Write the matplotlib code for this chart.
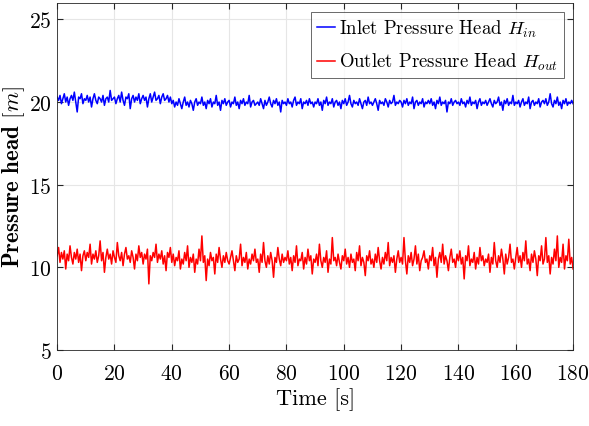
import numpy as np
import matplotlib
matplotlib.use("Agg")
import matplotlib.pyplot as plt

plt.rcParams['font.family'] = ['cmr10', 'DejaVu Serif']
plt.rcParams['mathtext.fontset'] = 'cm'
plt.rcParams['axes.formatter.use_mathtext'] = True

h_in = [
    20.3, 20.1, 20.4, 19.9, 20.2, 20.5, 20.0, 20.3, 19.8, 20.2, 20.4, 20.1, 20.6, 20.0, 19.4, 20.3, 20.2, 20.5, 19.9, 20.2,
    20.1, 20.4, 20.0, 20.3, 19.7, 20.2, 20.5, 20.1, 19.9, 20.3, 20.2, 20.0, 20.4, 19.8, 20.2, 20.3, 20.0, 20.7, 20.1, 20.2,
    20.3, 19.9, 20.2, 20.4, 20.0, 20.6, 20.1, 19.8, 20.3, 20.2, 20.5, 19.6, 20.2, 20.4, 20.0, 20.3, 20.1, 20.5, 19.9, 20.2,
    20.4, 20.1, 20.3, 19.7, 20.2, 20.5, 20.0, 20.3, 20.6, 20.1, 20.2, 20.4, 19.9, 20.3, 20.5, 20.1, 20.2, 20.4, 20.0, 20.3,
    19.9, 20.1, 19.7, 20.0, 19.8, 20.2, 19.9, 19.6, 20.0, 20.3, 19.8, 20.0, 19.7, 20.1, 19.9, 19.5, 20.0, 20.2, 19.8, 20.0,
    19.9, 20.3, 19.8, 20.0, 19.6, 20.1, 19.9, 20.2, 19.7, 20.0, 19.9, 20.4, 19.8, 20.0, 19.5, 20.1, 19.9, 20.2, 19.8, 20.0,
    20.1, 19.7, 20.0, 19.9, 20.3, 19.8, 20.0, 19.6, 20.1, 19.9, 20.2, 19.8, 20.0, 19.9, 20.4, 19.7, 20.0, 20.1, 19.8, 19.9,
    20.0, 19.8, 20.2, 19.9, 19.6, 20.1, 19.8, 20.0, 20.3, 19.9, 19.7, 20.1, 19.9, 20.2, 19.8, 20.0, 19.4, 20.1, 19.9, 20.0,
    19.8, 20.2, 19.9, 20.0, 19.7, 20.1, 20.3, 19.8, 20.0, 19.9, 20.2, 19.6, 20.0, 19.9, 20.1, 19.8, 20.2, 19.9, 20.0, 19.7,
    20.0, 19.9, 20.2, 19.8, 20.0, 19.5, 20.1, 19.9, 20.3, 19.8, 20.0, 19.9, 20.2, 19.7, 20.0, 20.1, 19.8, 20.0, 19.6, 20.1,
    19.9, 20.2, 19.8, 20.0, 20.4, 19.9, 19.7, 20.1, 19.9, 20.0, 19.8, 20.2, 19.9, 19.6, 20.0, 20.1, 19.8, 20.3, 19.9, 20.0,
    19.8, 20.0, 20.2, 19.9, 19.5, 20.1, 19.9, 20.0, 19.8, 20.2, 20.0, 19.7, 20.1, 19.9, 20.0, 20.4, 19.8, 20.0, 19.9, 20.1,
    20.0, 19.7, 20.1, 19.9, 20.2, 19.8, 20.0, 19.9, 20.3, 19.6, 20.0, 20.1, 19.8, 20.0, 19.9, 20.2, 19.7, 20.0, 19.9, 20.1,
    19.9, 20.2, 19.8, 20.0, 19.6, 20.1, 19.9, 20.3, 19.8, 20.0, 19.9, 20.1, 19.4, 20.0, 19.9, 20.2, 19.8, 20.0, 20.1, 19.9,
    20.0, 19.8, 20.2, 19.9, 20.0, 19.7, 20.1, 19.9, 20.3, 19.8, 20.0, 19.9, 20.1, 19.6, 20.0, 20.2, 19.8, 20.0, 19.9, 20.1,
    19.8, 20.0, 20.2, 19.9, 19.7, 20.1, 19.9, 20.0, 20.3, 19.8, 20.0, 19.5, 20.1, 19.9, 20.2, 19.8, 20.0, 19.9, 20.4, 19.8,
    20.0, 19.9, 20.1, 19.7, 20.0, 20.2, 19.8, 20.0, 19.9, 20.3, 19.6, 20.0, 20.1, 19.8, 20.0, 19.9, 20.2, 19.7, 20.0, 20.1,
    19.9, 20.2, 19.8, 20.0, 20.5, 19.9, 19.7, 20.1, 19.9, 20.3, 19.8, 20.0, 19.6, 20.1, 19.9, 20.2, 19.8, 20.0, 19.9, 20.1,
    19.9,
]

h_out = [
    10.7, 11.2, 10.3, 10.9, 10.5, 11.0, 9.9, 10.8, 10.4, 11.3, 10.6, 10.2, 10.9, 10.5, 11.1, 10.3, 10.8, 9.8, 10.7, 11.0,
    10.4, 10.9, 10.6, 11.4, 10.2, 10.8, 10.5, 11.0, 10.3, 10.7, 11.6, 10.4, 10.9, 9.7, 10.6, 11.1, 10.5, 10.8, 10.2, 11.0,
    10.6, 10.3, 11.5, 10.7, 10.4, 10.9, 10.1, 10.8, 11.2, 10.5, 10.7, 10.3, 11.0, 10.6, 9.9, 10.8, 10.4, 11.3, 10.6, 10.9,
    10.2, 10.8, 10.5, 11.1, 9.0, 10.7, 10.4, 10.9, 10.6, 11.4, 10.3, 10.8, 10.5, 11.0, 10.2, 10.7, 9.8, 10.9, 10.6, 11.2,
    10.3, 10.8, 10.1, 10.6, 10.4, 11.0, 9.9, 10.5, 10.2, 10.9, 10.4, 11.3, 10.0, 10.6, 10.3, 10.8, 9.7, 10.5, 10.2, 11.1,
    10.4, 11.9, 10.3, 10.7, 9.2, 10.5, 10.1, 10.9, 10.4, 10.6, 9.6, 10.8, 10.3, 11.2, 10.5, 10.0, 10.7, 10.3, 10.9, 10.4,
    10.2, 10.6, 11.0, 10.4, 9.8, 10.7, 10.3, 10.5, 11.4, 10.1, 10.6, 10.3, 10.9, 9.9, 10.5, 10.2, 10.8, 10.4, 11.1, 10.3,
    10.5, 9.7, 10.8, 10.3, 11.5, 10.4, 10.0, 10.7, 10.2, 10.9, 10.4, 9.4, 10.6, 10.3, 11.2, 10.5, 10.1, 10.8, 10.3, 10.6,
    10.4, 11.0, 10.2, 10.6, 9.8, 10.7, 10.3, 11.3, 10.1, 10.5, 10.4, 10.9, 9.9, 10.6, 10.2, 11.1, 10.4, 10.7, 9.6, 10.5,
    10.3, 10.8, 10.1, 11.4, 10.4, 10.0, 10.6, 10.3, 11.0, 9.7, 10.5, 10.2, 11.8, 10.4, 10.6, 10.1, 10.8, 10.3, 9.9, 10.7,
    10.4, 11.1, 10.2, 10.6, 10.0, 10.8, 10.3, 10.5, 9.8, 10.9, 10.4, 11.3, 10.1, 10.6, 10.3, 9.5, 10.7, 10.4, 11.0, 10.2,
    10.5, 10.0, 10.8, 10.3, 11.2, 10.4, 9.9, 10.6, 10.2, 10.9, 10.4, 11.5, 10.1, 10.6, 10.3, 10.7, 9.7, 10.5, 11.0, 10.3,
    10.6, 10.2, 11.8, 10.4, 9.6, 10.7, 10.3, 10.9, 10.1, 10.5, 11.3, 10.2, 10.8, 9.8, 10.4, 10.6, 11.0, 10.3, 10.5, 9.9,
    10.7, 10.4, 11.2, 10.1, 10.6, 9.4, 10.5, 10.9, 10.3, 11.4, 10.2, 10.7, 10.4, 9.8, 10.6, 11.1, 10.3, 10.5, 10.0, 10.8,
    10.4, 11.0, 10.2, 10.6, 9.3, 10.7, 10.4, 11.3, 10.1, 10.5, 10.3, 10.9, 9.9, 10.6, 10.2, 11.2, 10.4, 10.7, 10.1, 10.5,
    10.3, 10.8, 9.7, 10.6, 10.2, 11.5, 10.4, 10.0, 10.7, 10.3, 11.1, 10.5, 9.6, 10.8, 10.2, 10.6, 11.4, 10.3, 10.5, 9.9,
    10.6, 11.2, 10.3, 10.7, 10.0, 10.9, 10.4, 11.6, 10.2, 10.5, 9.8, 10.8, 10.3, 11.0, 10.5, 9.5, 10.7, 10.4, 11.3, 10.2,
    10.5, 11.8, 10.3, 10.7, 9.6, 10.6, 10.2, 11.1, 10.4, 11.9, 10.0, 10.6, 10.3, 11.4, 9.9, 10.7, 10.4, 11.7, 10.2, 10.6,
    9.9,
]

t_end = 180
t = np.linspace(0, t_end, len(h_in))

fig = plt.figure(figsize=(5.89, 4.27), dpi=100)
ax = fig.add_axes([0.097, 0.178, 0.876, 0.813])

ax.plot(t, h_in, color='#0000ff', linewidth=1.1, label=r'Inlet Pressure Head $H_{in}$')
ax.plot(t, h_out, color='#ff0000', linewidth=1.1, label=r'Outlet Pressure Head $H_{out}$')

ax.set_xlim(0, 180)
ax.set_ylim(5, 26)
ax.set_xticks(np.arange(0, 181, 20))
ax.set_yticks([5, 10, 15, 20, 25])
ax.grid(True, color='#e6e6e6', linewidth=0.8)
ax.set_axisbelow(True)
ax.tick_params(direction='in', top=True, right=True, labelsize=15.5,
               color='#262626', length=4)
ax.tick_params(axis='x', pad=10)
ax.tick_params(axis='y', pad=4)
for s in ax.spines.values():
    s.set_color('#262626')
    s.set_linewidth(0.6)

ax.set_xlabel('Time [s]', fontsize=16, labelpad=3)
ax.set_ylabel(r'Pressure head $[m]$', fontsize=16.5, family=['cmb10', 'DejaVu Serif'],
              labelpad=1)

leg = ax.legend(loc='upper right', fontsize=13.5, frameon=True, fancybox=False,
                borderpad=0.3, handlelength=1.0, handletextpad=0.2,
                labelspacing=0.65, borderaxespad=0.5)
leg.get_frame().set_edgecolor('#262626')
leg.get_frame().set_linewidth(0.6)

fig.savefig('out.png', dpi=100)
